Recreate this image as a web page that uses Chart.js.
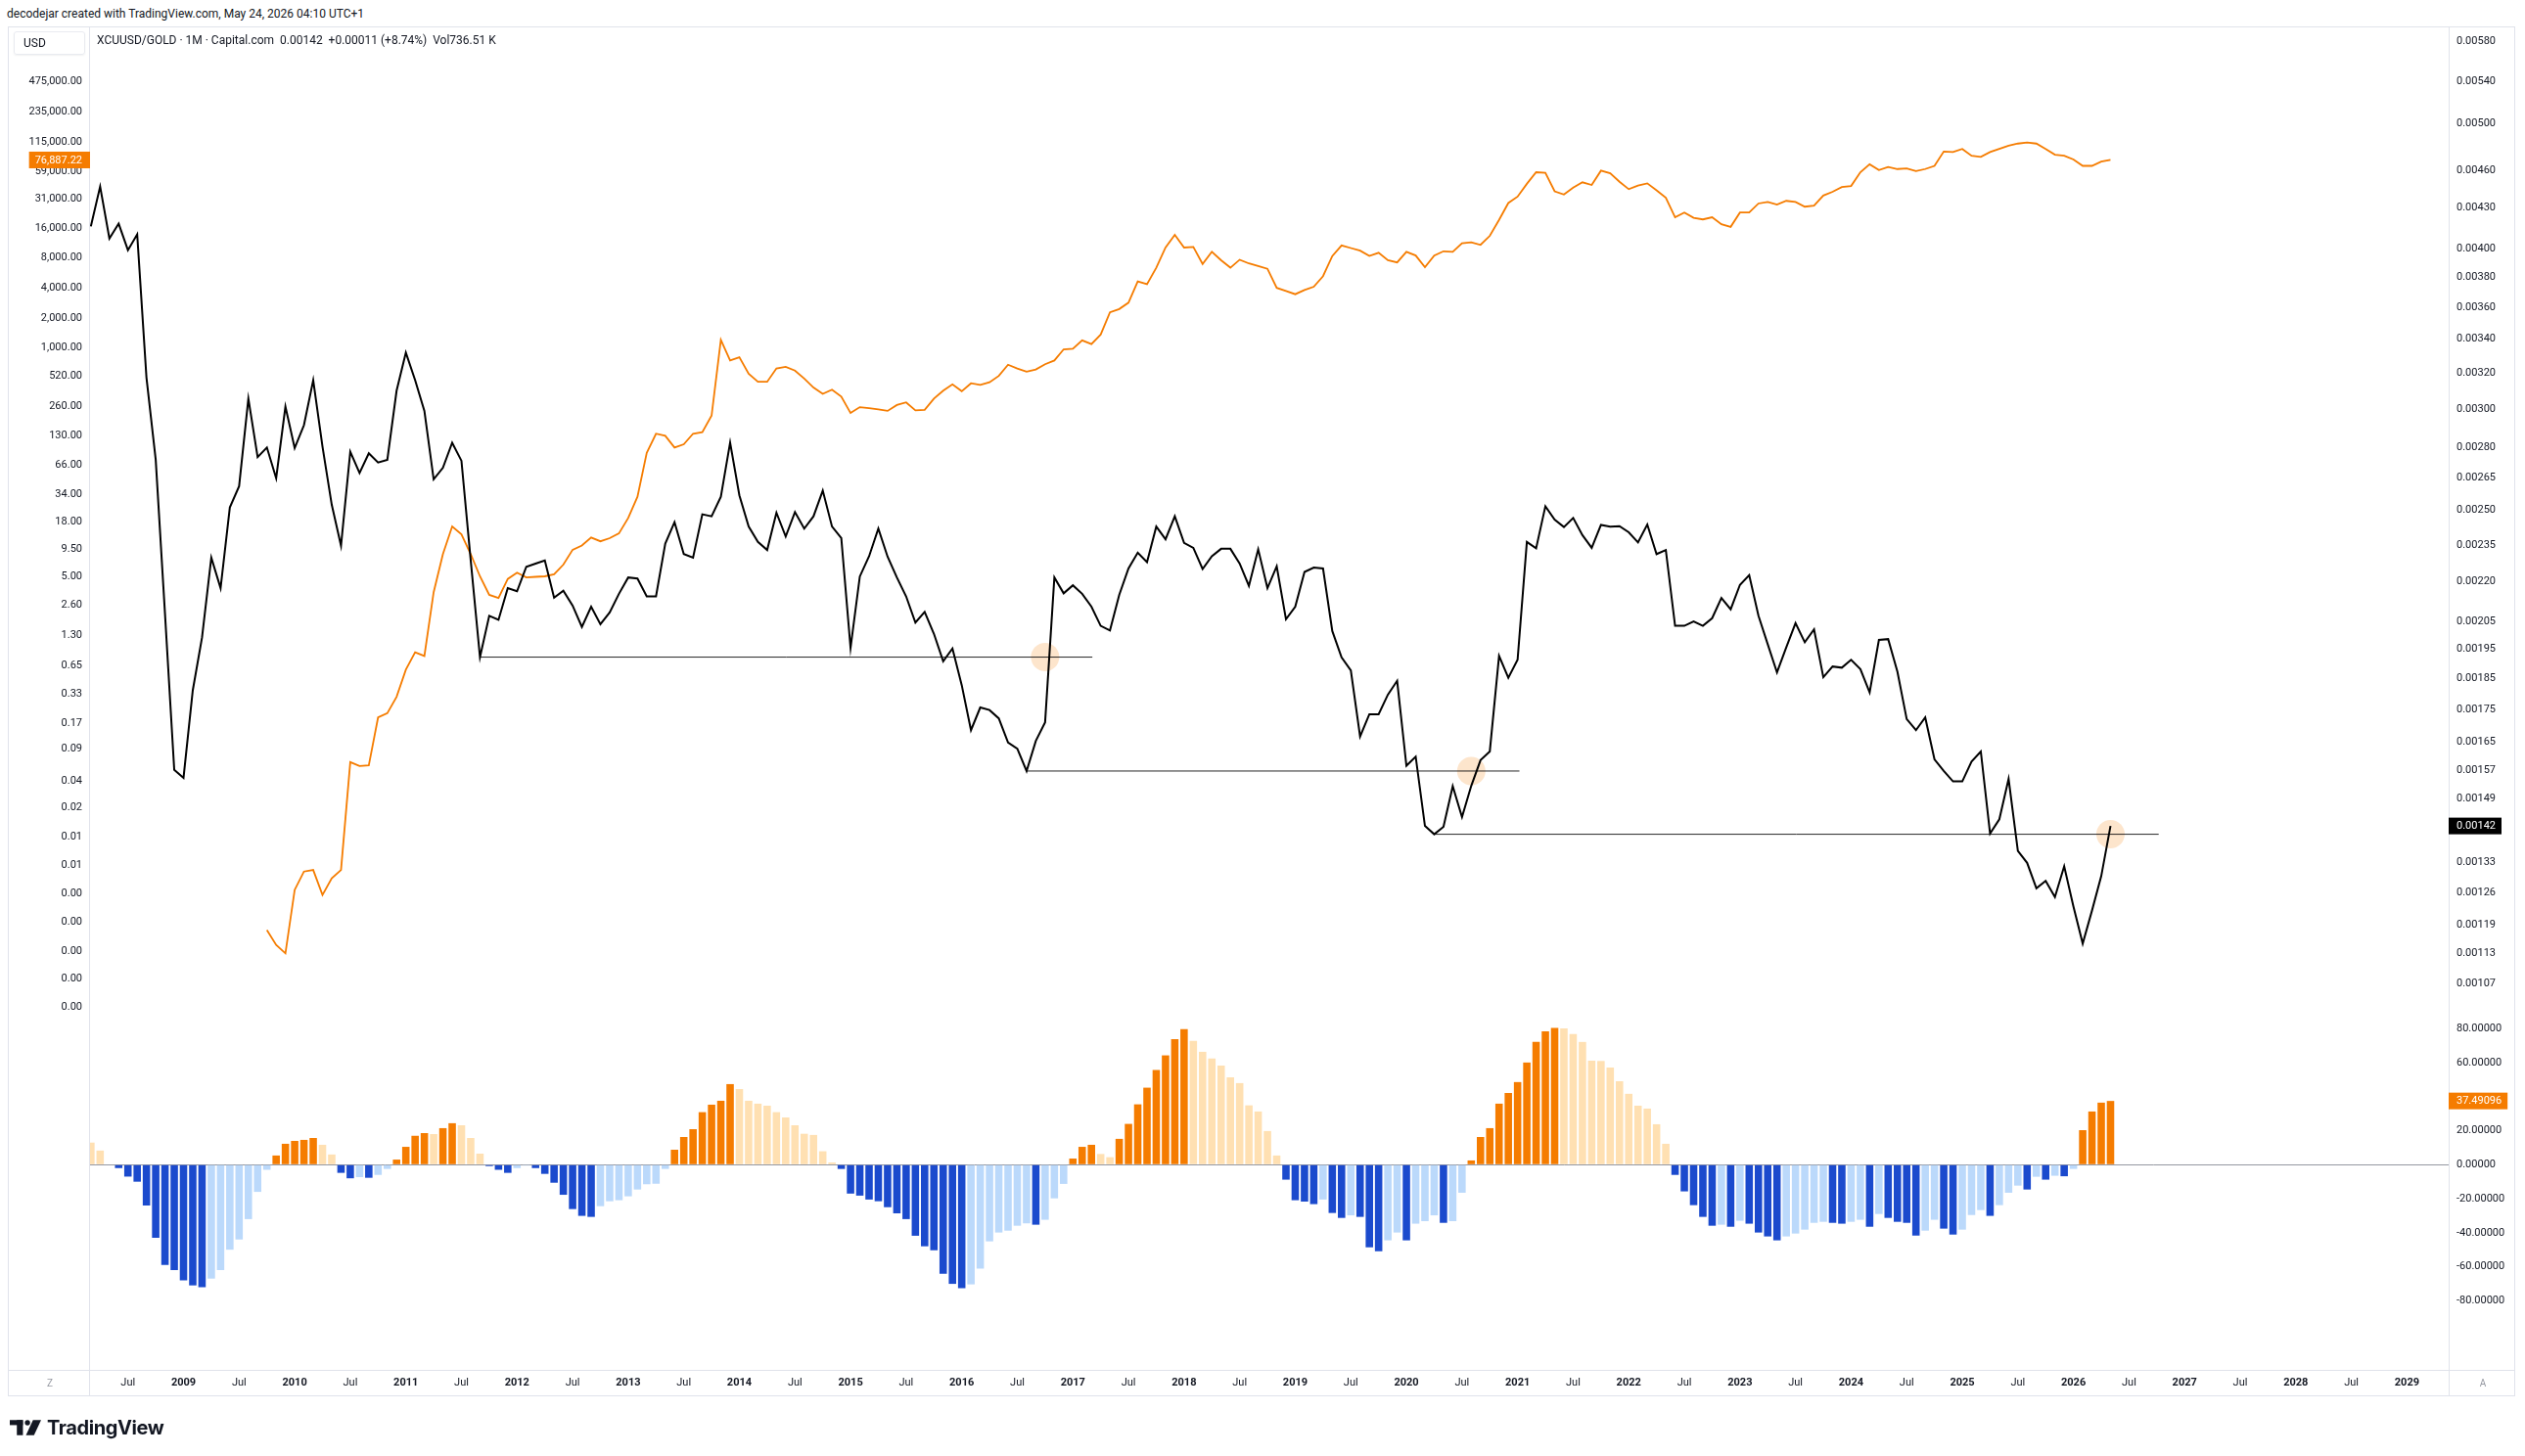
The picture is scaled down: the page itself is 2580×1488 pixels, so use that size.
<!DOCTYPE html>
<html>
<head>
<meta charset="utf-8">
<script src="https://cdn.jsdelivr.net/npm/chart.js@4.4.1/dist/chart.umd.min.js"></script>
<style>
  body { margin: 0; background: #fff; width: 2580px; height: 1488px; position: relative; overflow: hidden;
         font-family: Roboto, "Noto Sans", sans-serif; color: #131722; }
  .abs { position: absolute; }
  #hdr { left: 7px; top: 7px; font-size: 12px; }
  #frame { left: 8px; top: 27px; width: 2562px; height: 1400px; border: 1px solid #e0e3eb; box-sizing: border-box; }
  .vline { top: 27px; width: 1px; height: 1400px; background: #e0e3eb; }
  .hline { left: 8px; width: 2562px; height: 1px; background: #e0e3eb; }
  #legend { left: 99px; top: 34px; font-size: 12px; white-space: pre; }
  #usd { left: 14px; top: 32px; width: 73px; height: 24px; border: 1px solid #e9ebf0; border-radius: 3px;
         box-sizing: border-box; font-size: 12px; line-height: 22px; padding-left: 9px; box-shadow: 0 1px 2px rgba(0,0,0,0.06); }
  .corner { font-size: 10px; color: #9598a1; width: 16px; height: 16px; line-height: 16px; text-align: center; }
  #logo { left: 10px; top: 1447px; display: flex; align-items: center; gap: 6px; }
  #logo span { font-family: Inter, Roboto, sans-serif; font-weight: 700; font-size: 20px; letter-spacing: -0.4px; color: #131722; }
  canvas { position: absolute; }
</style>
</head>
<body>
<div id="hdr" class="abs">decodejar created with TradingView.com, May 24, 2026 04:10 UTC+1</div>
<div id="frame" class="abs"></div>
<div class="abs vline" style="left:91px"></div>
<div class="abs vline" style="left:2502px"></div>
<div class="abs hline" style="top:1400px"></div>

<canvas id="mainPane" width="2560" height="1013" style="left:10px;top:27px;width:2560px;height:1013px"></canvas>
<canvas id="oscPane" width="2560" height="387" style="left:10px;top:1040px;width:2560px;height:387px"></canvas>

<div id="legend" class="abs">XCUUSD/GOLD · 1M · Capital.com  0.00142  +0.00011 (+8.74%)  Vol736.51 K</div>
<div id="usd" class="abs">USD</div>
<div class="abs corner" style="left:43px;top:1406px">Z</div>
<div class="abs corner" style="left:2529px;top:1406px">A</div>
<div id="logo" class="abs">
  <svg width="32" height="16" viewBox="0 0 31 15">
    <rect x="0" y="0" width="13" height="5" fill="#131722"/>
    <rect x="7" y="0" width="6" height="15" fill="#131722"/>
    <circle cx="17.5" cy="2.6" r="2.6" fill="#131722"/>
    <polygon points="23,0 31,0 24,15 16,15" fill="#131722"/>
  </svg>
  <span>TradingView</span>
</div>

<script>
// month index 0 = Jan 2008, one point per month
var firstYear = 2008;

// XCUUSD/GOLD monthly close, from Mar 2008 (index 2)
var ratioStart = 2;
var ratioValues = [
  0.004161, 0.004469, 0.004071, 0.004181, 0.003987, 0.004102, 0.003173, 0.002738, 0.002078, 0.001570,
  0.001548, 0.001811, 0.001991, 0.002297, 0.002175, 0.002514, 0.002611, 0.003055, 0.002751, 0.002799, 0.002649, 0.003012,
  0.002796, 0.002913, 0.003158, 0.002804, 0.002526, 0.002347, 0.002778, 0.002674, 0.002770, 0.002725, 0.002738, 0.003099,
  0.003318, 0.003158, 0.002989, 0.002644, 0.002699, 0.002823, 0.002733, 0.002286, 0.001922, 0.002070, 0.002055, 0.002175,
  0.002163, 0.002260, 0.002273, 0.002286, 0.002138, 0.002165, 0.002108, 0.002029, 0.002104, 0.002039, 0.002082, 0.002153,
  0.002217, 0.002213, 0.002143, 0.002143, 0.002356, 0.002448, 0.002312, 0.002297, 0.002483, 0.002474, 0.002562, 0.002823,
  0.002569, 0.002429, 0.002363, 0.002329, 0.002490, 0.002386, 0.002493, 0.002420, 0.002474, 0.002591, 0.002429, 0.002379,
  0.001954, 0.002221, 0.002303, 0.002420, 0.002301, 0.002217, 0.002143, 0.002045, 0.002084, 0.002004, 0.001908, 0.001952,
  0.001828, 0.001686, 0.001756, 0.001748, 0.001722, 0.001649, 0.001631, 0.001567, 0.001654, 0.001710, 0.002217, 0.002155,
  0.002186, 0.002153, 0.002104, 0.002033, 0.002016, 0.002149, 0.002253, 0.002318, 0.002279, 0.002429, 0.002374, 0.002474,
  0.002359, 0.002338, 0.002251, 0.002303, 0.002334, 0.002334, 0.002273, 0.002184, 0.002332, 0.002175, 0.002262, 0.002057,
  0.002104, 0.002239, 0.002257, 0.002253, 0.002014, 0.001921, 0.001877, 0.001667, 0.001735, 0.001735, 0.001797, 0.001842,
  0.001582, 0.001608, 0.001420, 0.001399, 0.001418, 0.001525, 0.001443, 0.001526, 0.001598, 0.001623, 0.001926, 0.001852,
  0.001913, 0.002363, 0.002336, 0.002519, 0.002459, 0.002427, 0.002467, 0.002392, 0.002338, 0.002436, 0.002429, 0.002431,
  0.002404, 0.002361, 0.002438, 0.002312, 0.002329, 0.002033, 0.002033, 0.002049, 0.002033, 0.002061, 0.002137, 0.002094,
  0.002188, 0.002226, 0.002070, 0.001967, 0.001870, 0.001956, 0.002043, 0.001974, 0.002020, 0.001854, 0.001890, 0.001886,
  0.001913, 0.001881, 0.001804, 0.001982, 0.001985, 0.001872, 0.001720, 0.001686, 0.001725, 0.001600, 0.001567, 0.001538,
  0.001538, 0.001594, 0.001623, 0.001401, 0.001437, 0.001545, 0.001358, 0.001329, 0.001270, 0.001287, 0.001250, 0.001321,
  0.001229, 0.001150, 0.001220, 0.001298, 0.00142
];

// BTC in USD (left scale), from Oct 2009 (index 21)
var btcStart = 21;
var btcValues = [
  0.00142, 0.00101, 0.00083,
  0.0036, 0.0055, 0.0057, 0.0032, 0.0047, 0.0057, 0.069, 0.063, 0.064, 0.194, 0.214, 0.313,
  0.585, 0.876, 0.804, 3.51, 8.48, 16.06, 13.36, 8.48, 5.07, 3.30, 3.07, 4.77,
  5.52, 4.95, 5.01, 5.07, 5.32, 6.64, 9.36, 10.33, 12.42, 11.40, 12.24, 13.68,
  19.52, 31.9, 88.2, 137.1, 130.5, 99.6, 107.3, 137.1, 142.2, 208.1, 1202, 744.9,
  801.9, 548.4, 456.2, 455.0, 619.7, 643.1, 590.2, 490.9, 398.7, 344.3, 379.7, 323.6,
  221.3, 253.3, 247.3, 241.2, 232.4, 266.0, 282.8, 235.5, 238.4, 308.2, 370.6, 429.2,
  366.0, 439.9, 424.0, 450.8, 522.1, 675.4, 619.7, 575.7, 604.9, 683.6, 744.9, 964.1,
  975.9, 1187, 1089, 1358, 2274, 2449, 2837, 4629, 4355, 6370, 10150, 13624,
  10150, 10276, 6942, 9202, 7566, 6370, 7657, 7028, 6610, 6218, 3998, 3715,
  3451, 3806, 4098, 5236, 8345, 10662, 10030, 9436, 8345, 8983, 7566, 7203,
  9202, 8445, 6448, 8445, 9312, 9202, 11194, 11476, 10798, 13301, 19206, 28428,
  32935, 44233, 57890, 57200, 37244, 34594, 40582, 45861, 43149, 60070, 56512, 46456,
  39122, 42627, 44766, 38151, 32153, 20416, 22795, 20176, 19446, 20416, 17412, 16368,
  22795, 22795, 28094, 29148, 27406, 29868, 29148, 26091, 26749, 33770, 36795, 41083,
  42116, 57890, 69584, 60810, 65463, 62334, 63095, 59350, 62334, 67122, 93453, 92254,
  99337, 84701, 82635, 92254, 99337, 106911, 112294, 115080, 112294, 99337, 86787, 84701,
  77732, 67122, 67122, 74018, 76887.22
];

// oscillator histogram, from Mar 2008 (index 2)
var oscStart = 2;
var oscValues = [
  13, 8.3, -0.3, -2, -7, -10, -24, -43, -59, -62,
  -68, -71, -72, -67, -62, -50, -44, -32, -16, -3, 5.4, 12.3,
  14, 14.6, 15.7, 11.7, 6, -4.8, -8, -7.3, -7.7, -6, -2.5, 3,
  10.5, 17, 18.6, 18, 21.5, 24.4, 23.2, 15.7, 6.5, -0.8, -3, -4.8,
  -2, -0.5, -2, -5.4, -10.6, -17.7, -26.1, -30.1, -30.7, -24.4, -21.5, -20.9,
  -18.6, -14.6, -11.5, -11.2, -2.5, 8.8, 16.3, 20.9, 30.9, 35.3, 37.6, 47.4,
  44.5, 37.6, 35.9, 34.7, 30.9, 27.8, 23.2, 18.2, 17.5, 7.9, 1.3, -2.5,
  -17, -18.2, -20.5, -21.5, -25, -28.6, -32, -41.8, -48, -50.3, -64.1, -70.1,
  -72.7, -70.4, -61.2, -45.1, -39.9, -38.8, -35.9, -34.5, -35.3, -32.4, -19.8, -11.3,
  3.6, 10.5, 11.7, 6.3, 4.4, 15.2, 24, 35.5, 45.3, 55.7, 64.3, 73.9,
  79.7, 72.9, 66.4, 62.4, 58.3, 51.4, 48, 34.9, 31.3, 19.8, 5.4, -8.8,
  -20.9, -21.7, -23.2, -20.5, -28.4, -31.3, -29.8, -30.7, -48.6, -50.9, -44.5, -39.9,
  -44.5, -34.7, -33.2, -29.8, -34.2, -33.2, -16.5, 2.5, 16.3, 21.5, 35.9, 42.2,
  48.6, 60.1, 72.2, 78.5, 80.4, 80.1, 76.8, 72.2, 61.2, 61.0, 57.2, 49.1,
  41.7, 34.7, 33, 23.8, 12.3, -6, -15.7, -23.8, -30.7, -35.9, -35.3, -36.5,
  -33, -34.7, -39.9, -42.2, -44.5, -42.2, -40.5, -38.2, -34.2, -33.6, -34.2, -34.7,
  -33.6, -32.4, -36.5, -29, -31.3, -33.6, -34.2, -41.7, -38.8, -32.4, -37.6, -41.1,
  -38.2, -29.6, -26.7, -30.1, -23.8, -16.5, -12.3, -14.6, -7.1, -8.8, -6.5, -6.8,
  -2.5, 20.3, 31.3, 36.5, 37.49096
];

// horizontal support drawings on the ratio
var supportLevels = [0.001922, 0.001567, 0.001399];
var supportFrom = [44, 103, 147];
var supportTo = [110.1, 156.2, 225.2];
var touchMonths = [105, 151, 220];

// axis tick values
var leftTicks = [475000, 235000, 115000, 59000, 31000, 16000, 8000, 4000, 2000, 1000, 520, 260, 130, 66, 34, 18,
  9.5, 5, 2.6, 1.3, 0.65, 0.33, 0.17, 0.094, 0.0449, 0.024, 0.0123, 0.0063, 0.0033, 0.0017, 0.00087, 0.00046, 0.00024];
var rightTicks = [0.0058, 0.0054, 0.005, 0.0046, 0.0043, 0.004, 0.0038, 0.0036, 0.0034, 0.0032, 0.003, 0.0028,
  0.00265, 0.0025, 0.00235, 0.0022, 0.00205, 0.00195, 0.00185, 0.00175, 0.00165, 0.00157, 0.00149,
  0.00133, 0.00126, 0.00119, 0.00113, 0.00107];
var oscTicks = [80, 60, 20, 0, -20, -40, -60, -80];
var timeTicks = [];
for (var t = 6; t <= 252; t += 6) timeTicks.push(t);

var X_MIN = 1.91, X_MAX = 256.5;

Chart.defaults.font.family = 'Roboto';
Chart.defaults.font.size = 11;
Chart.defaults.color = '#131722';

function toPoints(start, values) {
  return values.map(function(v, i) { return {x: start + i, y: v}; });
}

function fixedTicks(list) {
  return function(scale) {
    scale.ticks = list.map(function(v) { return {value: v}; });
  };
}

function fixWidth(w) {
  return function(scale) {
    scale.width = w;
    scale.paddingTop = 0;
    scale.paddingBottom = 0;
  };
}

// coloured price tags on the axes
var priceTags = {
  id: 'priceTags',
  afterDraw: function(chart, args, opts) {
    var ctx = chart.ctx;
    (opts.tags || []).forEach(function(tag) {
      var scale = chart.scales[tag.axis];
      var y = scale.getPixelForValue(tag.value);
      ctx.save();
      ctx.font = '11px Roboto';
      var w = ctx.measureText(tag.text).width;
      ctx.fillStyle = tag.bg;
      ctx.textBaseline = 'middle';
      if (scale.position === 'left') {
        ctx.fillRect(scale.right - w - 14, y - 8.5, w + 14, 17);
        ctx.fillStyle = '#fff';
        ctx.textAlign = 'right';
        ctx.fillText(tag.text, scale.right - 8, y + 0.5);
      } else {
        ctx.fillRect(scale.left, y - 8.5, w + 14, 17);
        ctx.fillStyle = '#fff';
        ctx.textAlign = 'left';
        ctx.fillText(tag.text, scale.left + 8, y + 0.5);
      }
      ctx.restore();
    });
  }
};

var datasets = [
  {
    data: toPoints(ratioStart, ratioValues), yAxisID: 'yR', borderColor: '#000000', borderWidth: 2,
    pointRadius: 0, tension: 0, order: 1
  },
  {
    data: toPoints(btcStart, btcValues), yAxisID: 'yL', borderColor: '#f57c00', borderWidth: 1.8,
    pointRadius: 0, tension: 0, order: 2
  }
];
supportLevels.forEach(function(level, i) {
  datasets.push({
    data: [{x: supportFrom[i], y: level}, {x: supportTo[i], y: level}], yAxisID: 'yR',
    borderColor: 'rgba(0,0,0,0.85)', borderWidth: 1, pointRadius: 0, order: 4
  });
});
datasets.push({
  data: touchMonths.map(function(m, i) { return {x: m, y: supportLevels[i]}; }), yAxisID: 'yR',
  showLine: false, pointRadius: 14.5, pointBorderWidth: 0, pointBackgroundColor: 'rgba(245,124,0,0.2)', order: 5
});

new Chart(document.getElementById('mainPane'), {
  type: 'line',
  data: { datasets: datasets },
  options: {
    responsive: false, animation: false, events: [],
    layout: { padding: 0, autoPadding: false },
    plugins: {
      legend: { display: false }, tooltip: { enabled: false },
      priceTags: { tags: [
        { axis: 'yL', value: btcValues[btcValues.length - 1], text: '76,887.22', bg: '#f57c00' },
        { axis: 'yR', value: ratioValues[ratioValues.length - 1], text: '0.00142', bg: '#000000' }
      ] }
    },
    scales: {
      x: { type: 'linear', display: false, min: X_MIN, max: X_MAX },
      yL: {
        type: 'logarithmic', position: 'left', min: 0.0001877, max: 1686000,
        afterBuildTicks: fixedTicks(leftTicks), afterFit: fixWidth(82),
        grid: { display: false, drawTicks: false }, border: { display: false },
        ticks: {
          autoSkip: false, padding: 8,
          callback: function(v) { return Number(v).toLocaleString('en-US', {minimumFractionDigits: 2, maximumFractionDigits: 2}); }
        }
      },
      yR: {
        type: 'logarithmic', position: 'right', min: 0.001007, max: 0.005955,
        afterBuildTicks: fixedTicks(rightTicks), afterFit: fixWidth(68),
        grid: { display: false, drawTicks: false }, border: { display: false },
        ticks: { autoSkip: false, padding: 8, callback: function(v) { return Number(v).toFixed(5); } }
      }
    }
  },
  plugins: [priceTags]
});

new Chart(document.getElementById('oscPane'), {
  type: 'bar',
  data: {
    datasets: [{
      data: toPoints(oscStart, oscValues), yAxisID: 'yO',
      barPercentage: 0.8, categoryPercentage: 1.0, borderWidth: 0,
      backgroundColor: function(c) {
        var i = c.dataIndex, v = oscValues[i];
        var rising = i > 0 ? v >= oscValues[i - 1] : v <= oscValues[i + 1];
        if (v >= 0) return rising ? '#f57c00' : '#ffe0b2';
        return rising ? '#bbd9fb' : '#1b4acd';
      }
    }]
  },
  options: {
    responsive: false, animation: false, events: [],
    layout: { padding: { left: 82, right: 0, top: 0, bottom: 0 }, autoPadding: false },
    plugins: {
      legend: { display: false }, tooltip: { enabled: false },
      priceTags: { tags: [
        { axis: 'yO', value: oscValues[oscValues.length - 1], text: '37.49096', bg: '#f57c00' }
      ] }
    },
    scales: {
      x: {
        type: 'linear', position: 'bottom', min: X_MIN, max: X_MAX, offset: false,
        afterBuildTicks: fixedTicks(timeTicks),
        afterFit: function(scale) { scale.height = 27; scale.paddingLeft = 0; scale.paddingRight = 0; },
        grid: { display: false, drawTicks: false, offset: false }, border: { display: false },
        ticks: {
          autoSkip: false, maxRotation: 0, padding: 7,
          font: function(c) { return { weight: c.tick && c.tick.value % 12 === 0 ? 'bold' : 'normal' }; },
          callback: function(v) { return v % 12 === 0 ? String(firstYear + v / 12) : 'Jul'; }
        }
      },
      yO: {
        type: 'linear', position: 'right', min: -120.7, max: 86.5,
        afterBuildTicks: fixedTicks(oscTicks), afterFit: fixWidth(68),
        grid: {
          drawTicks: false, lineWidth: 1,
          color: function(c) { return c.tick && c.tick.value === 0 ? '#9598a1' : 'rgba(0,0,0,0)'; }
        },
        border: { display: false },
        ticks: { autoSkip: false, padding: 8, callback: function(v) { return Number(v).toFixed(5); } }
      }
    }
  },
  plugins: [priceTags]
});
</script>
</body>
</html>
